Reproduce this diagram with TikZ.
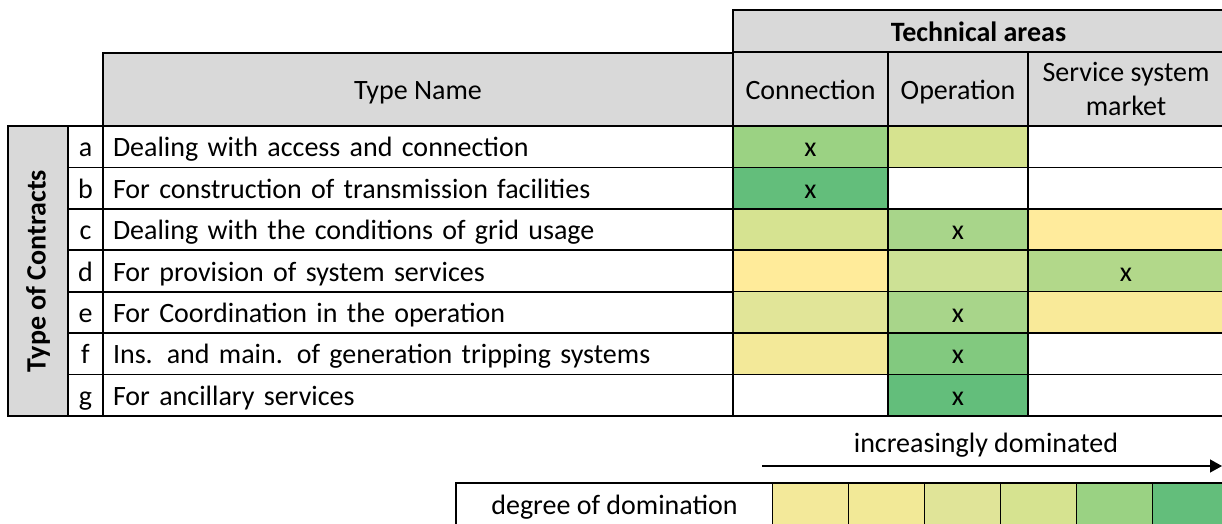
\documentclass[tikz,border=0pt]{standalone}
\usepackage{fontspec}
\setmainfont{Carlito}
\usetikzlibrary{arrows.meta}
\definecolor{hdr}{HTML}{D9D9D9}
\definecolor{gA}{HTML}{9BD283}
\definecolor{gB}{HTML}{63BE7B}
\definecolor{yA}{HTML}{D6E38F}
\definecolor{yC}{HTML}{D6E391}
\definecolor{gC}{HTML}{A8D58A}
\definecolor{yC2}{HTML}{FFEB9C}
\definecolor{yD}{HTML}{FFEB9A}
\definecolor{yD2}{HTML}{CDE195}
\definecolor{gD}{HTML}{B2D88A}
\definecolor{yE}{HTML}{E1E598}
\definecolor{yE2}{HTML}{F9EA99}
\definecolor{yF}{HTML}{F3E999}
\definecolor{gF}{HTML}{82C97F}
\definecolor{L1}{HTML}{F3E99A}
\definecolor{L2}{HTML}{F2E997}
\definecolor{L3}{HTML}{E0E498}
\definecolor{L4}{HTML}{D6E390}
\definecolor{L5}{HTML}{9AD283}
\definecolor{L6}{HTML}{63BE7B}
\tikzset{
  base/.style={draw=black, line width=1.6pt, inner sep=0pt, outer sep=0pt, font=\fontsize{28}{34}\selectfont},
  fixed/.style={text height=20pt, text depth=0pt},
  rowcell/.style={base, fixed, minimum height=41.43pt},
  letter/.style={rowcell, minimum width=35pt},
  namecell/.style={rowcell, text width=610pt, inner xsep=10pt, align=left},
  conn/.style={rowcell, minimum width=155pt},
  oper/.style={rowcell, minimum width=140pt},
  svc/.style={rowcell, minimum width=196pt},
  legcell/.style={base, minimum width=76pt, minimum height=48pt},
}
\begin{document}
\begin{tikzpicture}[x=1pt,y=-1pt]
\useasboundingbox (0,0) rectangle (1222,523);
% headers
\node[base, fixed, fill=hdr, minimum width=491pt, minimum height=42pt, font=\fontsize{28}{34}\selectfont\bfseries] (tech) at (978.5,31) {Technical areas};
\node[base, fixed, fill=hdr, minimum width=630pt, minimum height=73pt] (tname) at (418,89.5) {Type Name};
\node[base, fixed, fill=hdr, minimum width=155pt, minimum height=74pt] (hconn) at (810.5,89) {Connection};
\node[base, fixed, fill=hdr, minimum width=140pt, minimum height=74pt] (hop) at (958,89) {Operation};
\node[base, fill=hdr, minimum width=196pt, minimum height=74pt, align=center] (hsvc) at (1126,89) {Service system\\market};
% left group
\node[base, fill=hdr, minimum width=60pt, minimum height=290pt] (grp) at (38,271) {};
\node[rotate=90, font=\fontsize{28}{32}\selectfont\bfseries] (grpt) at (grp.center) {Type of Contracts};
% rows
\node[letter] (la) at (85.5,146.7) {a};
\node[namecell] (na) at (418,146.7) {Dealing with access and connection};
\node[conn, fill=gA] (ca) at (810.5,146.7) {x};
\node[oper, fill=yA] (oa) at (958,146.7) {};
\node[svc] (sa) at (1126,146.7) {};

\node[letter] (lb) at (85.5,188.1) {b};
\node[namecell] (nb) at (418,188.1) {For construction of transmission facilities};
\node[conn, fill=gB] (cb) at (810.5,188.1) {x};
\node[oper] (ob) at (958,188.1) {};
\node[svc] (sb) at (1126,188.1) {};

\node[letter] (lc) at (85.5,229.5) {c};
\node[namecell] (nc) at (418,229.5) {Dealing with the conditions of grid usage};
\node[conn, fill=yC] (cc) at (810.5,229.5) {};
\node[oper, fill=gC] (oc) at (958,229.5) {x};
\node[svc, fill=yC2] (sc) at (1126,229.5) {};

\node[letter] (ld) at (85.5,271.0) {d};
\node[namecell] (nd) at (418,271.0) {For provision of system services};
\node[conn, fill=yD] (cd) at (810.5,271.0) {};
\node[oper, fill=yD2] (od) at (958,271.0) {};
\node[svc, fill=gD] (sd) at (1126,271.0) {x};

\node[letter] (le) at (85.5,312.4) {e};
\node[namecell] (ne) at (418,312.4) {For Coordination in the operation};
\node[conn, fill=yE] (ce) at (810.5,312.4) {};
\node[oper, fill=gC] (oe) at (958,312.4) {x};
\node[svc, fill=yE2] (se) at (1126,312.4) {};

\node[letter] (lf) at (85.5,353.9) {f};
\node[namecell] (nf) at (418,353.9) {Ins. and main. of generation tripping systems};
\node[conn, fill=yF] (cf) at (810.5,353.9) {};
\node[oper, fill=gF] (of) at (958,353.9) {x};
\node[svc] (sf) at (1126,353.9) {};

\node[letter] (lg) at (85.5,395.3) {g};
\node[namecell] (ng) at (418,395.3) {For ancillary services};
\node[conn] (cg) at (810.5,395.3) {};
\node[oper, fill=gB] (og) at (958,395.3) {x};
\node[svc] (sg) at (1126,395.3) {};
% legend
\node[font=\fontsize{28}{32}\selectfont] (inc) at (986,445) {increasingly dominated};
\coordinate (as) at (762,466);
\coordinate (ae) at (1222,466);
\draw[line width=1.3pt, -{Triangle[length=12pt,width=13pt]}] (as) -- (ae);
\node[base, minimum width=317pt, minimum height=48pt] (deg) at (614.5,507) {degree of domination};
\node[legcell, fill=L1] (l1) at (810.5,507) {};
\node[legcell, fill=L2] (l2) at (886.5,507) {};
\node[legcell, fill=L3] (l3) at (962.5,507) {};
\node[legcell, fill=L4] (l4) at (1038.5,507) {};
\node[legcell, fill=L5] (l5) at (1114.5,507) {};
\node[legcell, fill=L6] (l6) at (1190.5,507) {};
\end{tikzpicture}
\end{document}
